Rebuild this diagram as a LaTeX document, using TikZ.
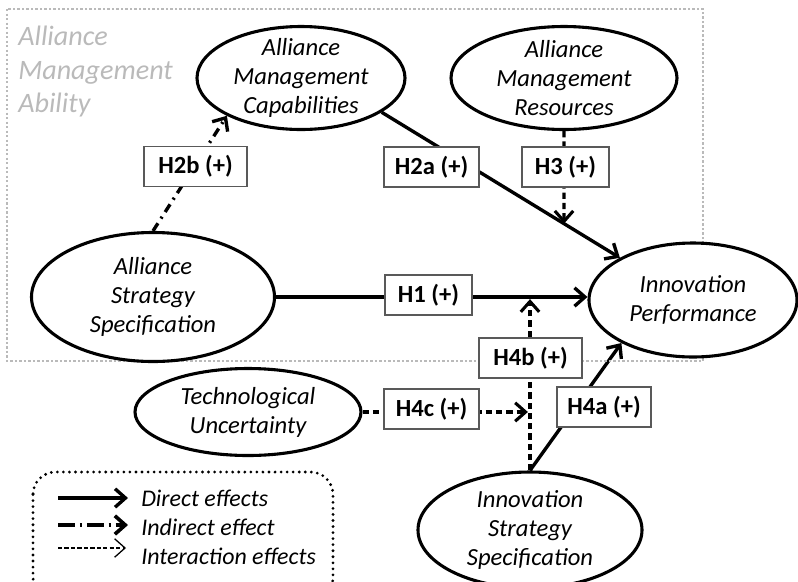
\documentclass[tikz,border=0pt]{standalone}
\usepackage{fontspec}
\setmainfont{Carlito}
\usetikzlibrary{shapes.geometric,arrows.meta,backgrounds}
\begin{document}
\begin{tikzpicture}[x=0.025cm,y=-0.025cm]
  \tikzset{
    construct/.style args={#1 by #2}{ellipse,draw,line width=2.2pt,fill=white,
      minimum width=#1*0.025cm,minimum height=#2*0.025cm,inner xsep=0pt,inner ysep=-6pt,
      align=center,font=\fontsize{17.5}{20.6}\selectfont\itshape},
    hyp/.style={draw=black!65,line width=0.8pt,fill=white,minimum width=#1*0.025cm,
      minimum height=1cm,inner sep=0pt,font=\fontsize{17.5}{20}\selectfont\bfseries},
    barb/.style={-{Straight Barb[length=2.6mm,width=4.6mm]}},
    direct/.style={barb,line width=2.4pt},
    indirect/.style={barb,line width=2.4pt,dash pattern=on 6.5pt off 4pt on 1.5pt off 4pt},
    interact/.style={barb,line width=2.2pt,dash pattern=on 4.5pt off 2.8pt},
    legendtext/.style={anchor=west,inner sep=0pt,font=\fontsize{17}{20.6}\selectfont\itshape},
  }
  \useasboundingbox (0,0) rectangle (798,581);
  % alliance management ability frame
  \draw [black!27,line width=1.6pt,dash pattern=on 1.6pt off 1.6pt] (7,9) rectangle (703,361);
  \node [anchor=north west,align=left,inner sep=0pt,text=black!27,
    font=\fontsize{20}{23.8}\selectfont\itshape] (ama) at (18,26) {Alliance\\Management\\Ability};
  % constructs
  \node [construct=208 by 103] (amc) at (301,78) {Alliance\\Management\\Capabilities};
  \node [construct=226 by 103] (amr) at (564,78) {Alliance\\Management\\Resources};
  \node [construct=243 by 129] (ass) at (153,297) {Alliance\\Strategy\\Specification};
  \node [construct=208 by 114] (ip) at (693,300) {Innovation\\Performance};
  \node [construct=226 by 87] (tu) at (248,412) {Technological\\Uncertainty};
  \node [construct=224 by 116] (iss) at (530,530) {Innovation\\Strategy\\Specification};
  % hypotheses
  \node [hyp=103] (h2b) at (195.5,166.5) {H2b (+)};
  \node [hyp=95] (h2a) at (431.5,167) {H2a (+)};
  \node [hyp=87] (h3) at (565.5,167) {H3 (+)};
  \node [hyp=87] (h1) at (428.5,295) {H1 (+)};
  \node [hyp=103] (h4b) at (530.5,358) {H4b (+)};
  \node [hyp=95] (h4c) at (431.5,409) {H4c (+)};
  \node [hyp=94] (h4a) at (604,407) {H4a (+)};
  % effects
  \begin{scope}[on background layer]
    \draw [indirect] (ass.north) -- (amc.207);
    \draw [direct] (amc.337) -- (ip.150);
    \draw [interact] (amr.south) -- (intersection of amc.337--ip.150 and amr.south--amr.north);
    \draw [direct] (ass.east) -- (ass.east -| ip.west);
    \draw [direct] (iss.north) -- (ip.211);
    \draw [interact,shorten >=1.5pt] (iss.north) -- (iss.north |- ass.east);
    \draw [interact,shorten >=1.5pt] (tu.east) -- (tu.east -| iss.north);
  \end{scope}
  % legend
  \draw [line width=2.2pt,line cap=round,dash pattern=on 0pt off 4.3pt,rounded corners=16pt]
    (33,472) rectangle (333,600);
  \node [legendtext] (ldir) at (141,498) {Direct effects};
  \node [legendtext] (lind) at (141,527) {Indirect effect};
  \node [legendtext] (lint) at (141,556) {Interaction effects};
  \coordinate (s1) at (58,498);
  \coordinate (s2) at (58,525);
  \coordinate (s3) at (58,548);
  \draw [direct,shorten >=13*0.025cm] (s1) -- (s1 -| ldir.west);
  \draw [barb,line width=2.6pt,dash pattern=on 12pt off 3.5pt on 1.5pt off 3.5pt,shorten >=13*0.025cm]
    (s2) -- (s2 -| lind.west);
  \draw [barb,line width=0.9pt,dash pattern=on 3pt off 1.6pt,shorten >=15*0.025cm]
    (s3) -- (s3 -| lint.west);
\end{tikzpicture}
\end{document}
